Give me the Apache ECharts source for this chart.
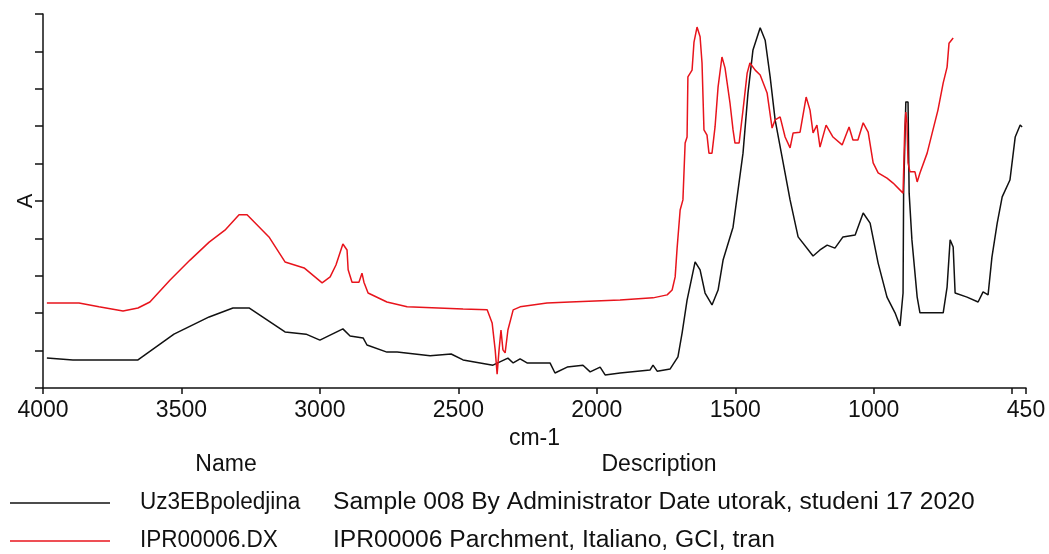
<!DOCTYPE html>
<html>
<head>
<meta charset="utf-8">
<script src="https://cdn.jsdelivr.net/npm/echarts@6/dist/echarts.min.js"></script>
<style>
html, body { margin: 0; padding: 0; background: #fff; }
#chart { width: 1049px; height: 554px; }
</style>
</head>
<body>
<div id="chart"></div>
<script>
// wavenumbers (cm-1) and absorbance (arbitrary units, 0-10 = axis ticks)
const blackWn = [3986, 3892, 3657, 3527, 3400, 3314, 3256, 3126, 3050, 3000, 2917, 2891, 2844, 2830, 2758, 2721, 2602, 2526, 2519, 2483, 2375, 2321, 2302, 2277, 2252, 2169, 2151, 2107, 2050, 2024, 1988, 1970, 1916, 1808, 1797, 1782, 1735, 1707, 1692, 1674, 1645, 1627, 1609, 1584, 1562, 1544, 1508, 1490, 1472, 1454, 1436, 1410, 1392, 1374, 1356, 1331, 1302, 1273, 1219, 1194, 1168, 1140, 1111, 1067, 1038, 1013, 984, 952, 923, 905, 894, 892, 884, 876, 872, 862, 843, 833, 749, 735, 724, 713, 706, 663, 623, 605, 587, 573, 554, 536, 508, 489, 471, 464]
const blackA = [0.80, 0.75, 0.75, 1.44, 1.90, 2.14, 2.14, 1.50, 1.44, 1.28, 1.58, 1.39, 1.34, 1.15, 0.96, 0.96, 0.86, 0.91, 0.94, 0.75, 0.61, 0.80, 0.67, 0.78, 0.67, 0.67, 0.40, 0.56, 0.61, 0.43, 0.56, 0.35, 0.40, 0.48, 0.61, 0.45, 0.51, 0.83, 1.47, 2.35, 3.37, 3.16, 2.54, 2.22, 2.62, 3.42, 4.30, 5.29, 6.28, 7.89, 9.04, 9.63, 9.30, 8.32, 7.17, 6.18, 5.03, 4.04, 3.53, 3.69, 3.82, 3.74, 4.04, 4.09, 4.68, 4.41, 3.34, 2.43, 2.01, 1.66, 2.54, 5.21, 7.65, 7.65, 5.21, 3.96, 2.43, 2.01, 2.01, 2.70, 3.96, 3.77, 2.54, 2.43, 2.30, 2.57, 2.49, 3.50, 4.41, 5.11, 5.56, 6.71, 7.03, 6.98]

const redWn = [3986, 3870, 3798, 3711, 3657, 3614, 3541, 3469, 3400, 3343, 3292, 3263, 3184, 3126, 3057, 2992, 2963, 2942, 2917, 2902, 2898, 2884, 2859, 2848, 2841, 2826, 2758, 2685, 2483, 2396, 2378, 2367, 2360, 2353, 2346, 2339, 2331, 2321, 2302, 2277, 2180, 2097, 1916, 1797, 1746, 1728, 1717, 1710, 1699, 1689, 1681, 1674, 1671, 1656, 1649, 1638, 1627, 1620, 1613, 1602, 1595, 1584, 1573, 1562, 1548, 1537, 1519, 1508, 1501, 1486, 1472, 1457, 1447, 1428, 1410, 1385, 1367, 1356, 1338, 1320, 1302, 1291, 1266, 1244, 1230, 1219, 1205, 1194, 1172, 1147, 1114, 1089, 1075, 1057, 1038, 1020, 1002, 984, 952, 930, 894, 888, 884, 880, 876, 869, 851, 843, 833, 807, 786, 768, 749, 735, 728, 713]
const redA = [2.27, 2.27, 2.17, 2.06, 2.14, 2.30, 2.89, 3.42, 3.90, 4.22, 4.63, 4.63, 4.04, 3.37, 3.21, 2.81, 2.97, 3.29, 3.85, 3.69, 3.16, 2.83, 2.83, 3.07, 2.83, 2.54, 2.30, 2.17, 2.11, 2.09, 1.74, 1.02, 0.37, 1.02, 1.55, 1.02, 0.94, 1.55, 2.09, 2.17, 2.27, 2.30, 2.35, 2.41, 2.49, 2.62, 2.97, 3.74, 4.76, 5.03, 6.55, 6.71, 8.32, 8.50, 9.25, 9.65, 9.39, 8.69, 6.90, 6.76, 6.28, 6.28, 6.98, 8.05, 8.85, 8.56, 7.62, 6.90, 6.55, 6.55, 7.43, 8.42, 8.69, 8.50, 8.37, 7.89, 6.95, 7.17, 7.25, 6.71, 6.42, 6.82, 6.84, 7.78, 7.43, 6.82, 7.03, 6.44, 7.03, 6.71, 6.50, 6.98, 6.63, 6.63, 7.09, 6.84, 6.02, 5.75, 5.61, 5.48, 5.21, 6.90, 7.38, 7.09, 6.02, 5.78, 5.78, 5.51, 5.75, 6.28, 6.90, 7.43, 8.16, 8.58, 9.22, 9.36]

const tickValues = [4000, 3500, 3000, 2500, 2000, 1500, 1000, 500, 450]
const labelValues = [4000, 3500, 3000, 2500, 2000, 1500, 1000, 450]

const legendRows = [
    { name: 'Uz3EBpoledjina', desc: 'Sample 008 By Administrator Date utorak, studeni 17 2020', color: '#111111' },
    { name: 'IPR00006.DX', desc: 'IPR00006 Parchment, Italiano, GCI, tran', color: '#e8141c' }
]

const font = "'Liberation Sans', Arial, sans-serif"
const fontSize = 23

function pairs(xs, ys) {
    return xs.map((x, i) => [x, ys[i]])
}

function textEl(str, x, y, align, sx) {
    return {
        type: 'text',
        x: x,
        y: y,
        scaleX: sx || 1,
        style: { text: str, font: fontSize + 'px ' + font, fill: '#111', align: align, verticalAlign: 'middle' }
    }
}

const chart = echarts.init(document.getElementById('chart'), null, { renderer: 'canvas' })

const graphics = [
    textEl('Name', 226, 465, 'center'),
    textEl('Description', 659, 465, 'center')
]
legendRows.forEach((row, i) => {
    const y = 503 + i * 38
    graphics.push({ type: 'line', shape: { x1: 10, y1: y, x2: 110, y2: y }, style: { stroke: row.color, lineWidth: 1.5 } })
    graphics.push(textEl(row.name, 140, y, 'left', 0.98))
    graphics.push(textEl(row.desc, 333, y, 'left', 1.07))
})

chart.setOption({
    animation: false,
    backgroundColor: '#fff',
    grid: {
        left: 43,
        right: 23,
        top: 14,
        bottom: 166,
        containLabel: false,
        outerBoundsMode: 'none'
    },
    xAxis: {
        type: 'value',
        min: 450,
        max: 4000,
        inverse: true,
        name: 'cm-1',
        nameLocation: 'middle',
        nameGap: 32,
        nameTextStyle: { fontFamily: font, fontSize: fontSize, color: '#111' },
        axisLine: { lineStyle: { color: '#111', width: 1.5 } },
        axisTick: { show: true, length: 6, lineStyle: { color: '#111', width: 1.5 }, customValues: tickValues },
        axisLabel: {
            fontFamily: font,
            fontSize: fontSize,
            color: '#111',
            margin: 11,
            customValues: labelValues,
            formatter: v => String(v)
        },
        splitLine: { show: false }
    },
    yAxis: {
        type: 'value',
        min: 0,
        max: 10,
        interval: 1,
        name: 'A',
        nameLocation: 'middle',
        nameRotate: 90,
        nameGap: 6,
        nameTextStyle: { fontFamily: font, fontSize: 22, color: '#111' },
        axisLine: { show: true, lineStyle: { color: '#111', width: 1.5 } },
        axisTick: { show: true, length: 8, lineStyle: { color: '#111', width: 1.5 } },
        axisLabel: { show: false },
        splitLine: { show: false }
    },
    series: [
        {
            name: legendRows[0].name,
            type: 'line',
            data: pairs(blackWn, blackA),
            showSymbol: false,
            lineStyle: { color: legendRows[0].color, width: 1.5 }
        },
        {
            name: legendRows[1].name,
            type: 'line',
            data: pairs(redWn, redA),
            showSymbol: false,
            lineStyle: { color: legendRows[1].color, width: 1.5 }
        }
    ],
    graphic: graphics
})
</script>
</body>
</html>
